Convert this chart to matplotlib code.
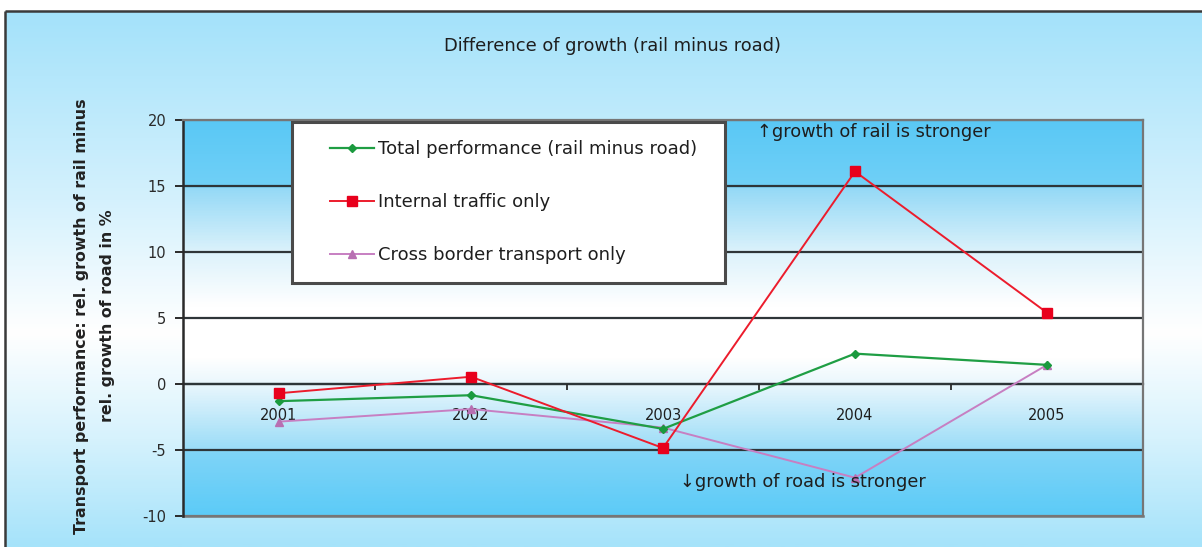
import numpy as np
import matplotlib
matplotlib.use("Agg")
import matplotlib.pyplot as plt
from matplotlib.colors import LinearSegmentedColormap
from matplotlib.lines import Line2D
from matplotlib.legend_handler import HandlerLine2D

# ---- data ----
years = ["2001", "2002", "2003", "2004", "2005"]
total_perf = [-1.3, -0.85, -3.4, 2.3, 1.45]
internal = [-0.7, 0.55, -4.85, 16.1, 5.4]
cross_border = [-2.85, -1.9, -3.3, -7.1, 1.45]
series_labels = ["Total performance (rail minus road)", "Internal traffic only",
                 "Cross border transport only"]
yticks = [-10, -5, 0, 5, 10, 15, 20]

W, H = 1202, 547
fig = plt.figure(figsize=(W / 100, H / 100), dpi=100)
fig.patch.set_facecolor("white")

# ---- figure background gradient ----
bg = fig.add_axes([0, 0, 1, 1], zorder=-5)
bg.set_xlim(0, W)
bg.set_ylim(H, 0)
bg.axis("off")
bg_cmap = LinearSegmentedColormap.from_list(
    "bgc", [(0.0, "#a4e2fa"), (0.35, "#d4f1fd"), (0.6, "#ffffff"), (0.8, "#d6f2fd"), (1.0, "#a6e3fa")])
grad = np.linspace(0, 1, 300).reshape(-1, 1)
bg.imshow(grad, cmap=bg_cmap, extent=[5, W, H, 11], aspect="auto", origin="upper")
bg.plot([5, W], [11, 11], color="#3a3a3a", lw=1.8, solid_capstyle="butt")
bg.plot([5, 5], [11, H], color="#3a3a3a", lw=1.8, solid_capstyle="butt")

# ---- plot area ----
left, right, top, bottom = 183, 1143, 120, 516
ax = fig.add_axes([left / W, 1 - bottom / H, (right - left) / W, (bottom - top) / H])
ax.set_xlim(-0.5, 4.5)
ax.set_ylim(-10, 20)

pa_cmap = LinearSegmentedColormap.from_list("pac", [
    (0.0, "#5ccbf7"), (0.16, "#7fd4f7"), (0.166, "#9adcf7"), (0.333, "#eaf7fd"),
    (0.40, "#ffffff"), (0.53, "#ffffff"), (0.667, "#dcf2fb"), (0.83, "#94d9f6"),
    (0.835, "#70d0f7"), (1.0, "#5ac8f5")])
pgrad = np.linspace(0, 1, 400).reshape(-1, 1)
ax.imshow(pgrad, cmap=pa_cmap, extent=[-0.5, 4.5, -10, 20], aspect="auto",
          origin="lower", zorder=0)

for yv in yticks:
    c = "#767676" if yv in (20, -10) else "#2e3538"
    ax.axhline(yv, color=c, lw=1.6, zorder=1)

x = np.arange(len(years))
ax.plot(x, total_perf, color="#1f9e44", lw=1.6, marker="D", ms=4.5,
        mfc="#1a9a3e", mec="#1a9a3e", zorder=4, label=series_labels[0])
ax.plot(x, internal, color="#ec1c2c", lw=1.4, marker="s", ms=6.5,
        mfc="#e8001c", mec="#e8001c", zorder=4, label=series_labels[1])
ax.plot(x, cross_border, color="#c77fc2", lw=1.4, marker="^", ms=6,
        mfc="#b86fb2", mec="#b86fb2", zorder=3, label=series_labels[2])

# spines
for s in ["top", "right"]:
    ax.spines[s].set_color("#767676")
    ax.spines[s].set_linewidth(1.6)
ax.spines["left"].set_color("#2a2a2a")
ax.spines["left"].set_linewidth(1.8)
ax.spines["bottom"].set_position(("data", 0))
ax.spines["bottom"].set_color("#2e3538")
ax.spines["bottom"].set_linewidth(1.6)
ax.spines["bottom"].set_zorder(1)

ax.set_yticks(yticks)
ax.set_yticklabels([str(v) for v in yticks])
ax.tick_params(axis="y", direction="out", length=6, width=1.4, color="#2a2a2a",
               labelsize=10.5, labelcolor="#2a2a2a", pad=6)
ax.set_xticks(x)
ax.set_xticklabels(years)
ax.tick_params(axis="x", which="major", length=0, pad=17, labelsize=10.5,
               labelcolor="#1e1e1e")
ax.set_xticks(np.arange(0.5, 4.6, 1.0), minor=True)
ax.tick_params(axis="x", which="minor", direction="out", length=4, width=1.3,
               color="#2a2a2a")
for lbl in ax.get_xticklabels():
    lbl.set_zorder(5)

# bottom frame line at -10
ax.plot([-0.5, 4.5], [-10, -10], color="#767676", lw=1.8, zorder=2, clip_on=False)

ax.set_ylabel("Transport performance: rel. growth of rail minus\nrel. growth of road in %",
              fontsize=11.4, fontweight="bold", color="#222222", linespacing=1.9)
ax.yaxis.set_label_coords(-0.071, 0.505)

ax.text(2.49, 19.1, "\u2191growth of rail is stronger", fontsize=12.8, color="#1e1e1e",
        va="center", ha="left", zorder=5)
ax.text(2.09, -7.4, "\u2193growth of road is stronger", fontsize=12.8, color="#1e1e1e",
        va="center", ha="left", zorder=5)

lg_top = (bottom - 122) / (bottom - top)
lg_h = 0.1
hm = {Line2D: HandlerLine2D(xpad=1.1)}
leg = ax.legend(loc="upper left",
                bbox_to_anchor=((292 - left) / (right - left), lg_top - lg_h,
                                (725 - 292) / (right - left), lg_h),
                mode="expand", fontsize=13, frameon=True, fancybox=False,
                labelspacing=1.95, handlelength=3.55, handletextpad=0.22,
                borderpad=1.0, borderaxespad=0, handler_map=hm)
leg.get_frame().set_edgecolor("#4a4a4a")
leg.get_frame().set_linewidth(2.2)
leg.get_frame().set_facecolor("white")
leg.get_frame().set_alpha(1)
leg.set_zorder(6)
for t in leg.get_texts():
    t.set_color("#1e1e1e")

fig.text(612 / W, 1 - 46 / H, "Difference of growth (rail minus road)", fontsize=12.9,
         ha="center", va="center", color="#1e1e1e")

fig.savefig("out.png", dpi=100)
